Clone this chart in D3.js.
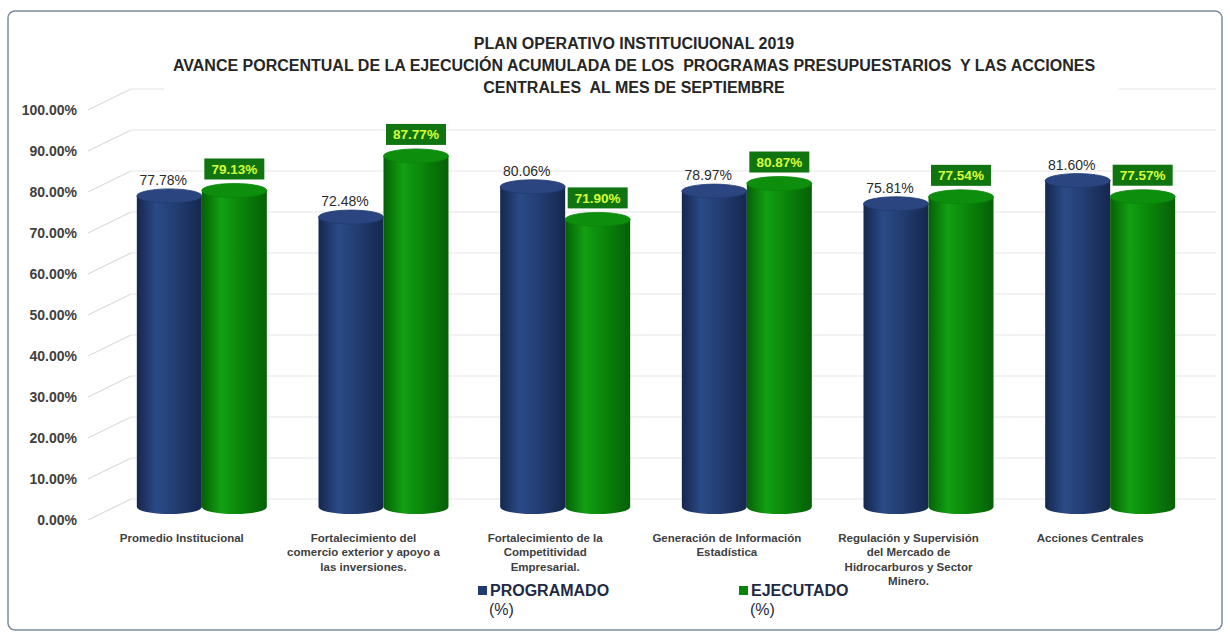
<html>

<head>
    <meta charset="UTF-8">
    <title>Plan Operativo Institucional 2019</title>
    <script src="https://cdn.jsdelivr.net/npm/d3@7/dist/d3.min.js" charset="utf-8"></script>
    <style>
        body { margin: 0; background: #ffffff; }
        text { font-family: "Liberation Sans", Arial, sans-serif; }
    </style>
</head>

<body>
    <svg id="mySvg" width="1230" height="633"></svg>
    <script>
        // datos
        var categories = [
            "Promedio Institucional",
            "Fortalecimiento del\ncomercio exterior y apoyo a\nlas inversiones.",
            "Fortalecimiento de la\nCompetitividad\nEmpresarial.",
            "Generación de Información\nEstadística",
            "Regulación y Supervisión\ndel Mercado de\nHidrocarburos y Sector\nMinero.",
            "Acciones Centrales"
        ];
        var programado = [0.7778, 0.7248, 0.8006, 0.7897, 0.7581, 0.8160];
        var ejecutado = [0.7913, 0.8777, 0.7190, 0.8087, 0.7754, 0.7757];
        var seriesNames = ["PROGRAMADO\n(%)", "EJECUTADO\n(%)"];
        var yTicks = [0, 0.1, 0.2, 0.3, 0.4, 0.5, 0.6, 0.7, 0.8, 0.9, 1.0];
        var titleLines = [
            "PLAN OPERATIVO INSTITUCIUONAL 2019",
            "AVANCE PORCENTUAL DE LA EJECUCIÓN ACUMULADA DE LOS  PROGRAMAS PRESUPUESTARIOS  Y LAS ACCIONES",
            "CENTRALES  AL MES DE SEPTIEMBRE"
        ];

        var svg = d3.select("#mySvg");
        var defs = svg.append("defs");

        // marco
        svg.append("rect")
            .attr("x", 8).attr("y", 11)
            .attr("width", 1214).attr("height", 619)
            .attr("rx", 7)
            .attr("fill", "#ffffff")
            .attr("stroke", "#7d8ca0")
            .attr("stroke-width", 1.5);

        // escalas
        var depthX = 43, depthY = 21;
        var yFront = d3.scaleLinear().domain([0, 1]).range([520, 110]);
        var yBar = d3.scaleLinear().domain([0, 1]).range([507, 107]);
        var x = d3.scaleBand().domain(categories).range([111, 1201]);
        var xInner = d3.scaleBand().domain([0, 1]).range([0, 130]);

        // rejilla 3D
        var grid = svg.append("g");
        grid.selectAll(".diag")
            .data(yTicks)
            .enter().append("line")
            .attr("x1", 88).attr("y1", function (d) { return yFront(d); })
            .attr("x2", 88 + depthX).attr("y2", function (d) { return yFront(d) - depthY; })
            .attr("stroke", "#dcdcdc").attr("stroke-width", 1.3);
        grid.selectAll(".back")
            .data(yTicks)
            .enter().append("line")
            .attr("x1", 88 + depthX).attr("y1", function (d) { return yFront(d) - depthY; })
            .attr("x2", 1216).attr("y2", function (d) { return yFront(d) - depthY; })
            .attr("stroke", "#e6e6e6").attr("stroke-width", 1.2);

        // titulo (con fondo blanco que tapa la rejilla)
        svg.append("rect")
            .attr("x", 164).attr("y", 26)
            .attr("width", 954).attr("height", 72)
            .attr("fill", "#ffffff");
        svg.append("g").selectAll("text")
            .data(titleLines)
            .enter().append("text")
            .attr("x", 634)
            .attr("y", function (d, i) { return 49 + i * 22; })
            .attr("text-anchor", "middle")
            .style("white-space", "pre")
            .attr("font-size", 16)
            .attr("font-weight", "bold")
            .attr("fill", "#262626")
            .text(function (d) { return d; });

        // eje Y
        var yAxis = svg.append("g")
            .attr("transform", "translate(77,0)")
            .call(d3.axisLeft(yFront).tickValues(yTicks).tickFormat(d3.format(".2%")).tickSize(0).tickPadding(0));
        yAxis.select(".domain").remove();
        yAxis.selectAll("text")
            .attr("font-size", 14)
            .attr("font-weight", "bold")
            .attr("fill", "#404040")
            .style("font-family", "'Liberation Sans', Arial, sans-serif");

        // gradientes de cilindros
        function cylGrad(id, edge, mid, light) {
            var g = defs.append("linearGradient").attr("id", id)
                .attr("x1", "0%").attr("x2", "100%").attr("y1", "0%").attr("y2", "0%");
            g.append("stop").attr("offset", "0%").attr("stop-color", edge);
            g.append("stop").attr("offset", "30%").attr("stop-color", light);
            g.append("stop").attr("offset", "60%").attr("stop-color", mid);
            g.append("stop").attr("offset", "100%").attr("stop-color", edge);
        }
        cylGrad("gBlue", "#15274d", "#223d72", "#2b4a86");
        cylGrad("gGreen", "#056005", "#0a850a", "#12a012");
        var colors = ["#213a70", "#0a850a"];
        var capColors = ["#2a4580", "#0d8f0d"];
        var grads = ["url(#gBlue)", "url(#gGreen)"];

        var ry = 7;
        var bars = svg.append("g");
        categories.forEach(function (c, i) {
            [programado[i], ejecutado[i]].forEach(function (v, s) {
                var x0 = x(c) + x.bandwidth() / 2 - 65 + xInner(s);
                var w = xInner.bandwidth();
                var rx = w / 2;
                var yt = yBar(v), yb = yBar(0);
                bars.append("path")
                    .attr("d", "M" + x0 + "," + yt + " L" + x0 + "," + yb +
                        " A" + rx + "," + ry + " 0 0 0 " + (x0 + w) + "," + yb +
                        " L" + (x0 + w) + "," + yt + " Z")
                    .attr("fill", grads[s]);
                bars.append("ellipse")
                    .attr("cx", x0 + rx).attr("cy", yt)
                    .attr("rx", rx).attr("ry", ry)
                    .attr("fill", capColors[s])
                    .attr("stroke", colors[s]).attr("stroke-width", 0.8);
            });
        });

        // etiquetas de datos
        var fmt = d3.format(".2%");
        var labels = svg.append("g");
        categories.forEach(function (c, i) {
            var cx = x(c) + x.bandwidth() / 2;
            var bx = cx - 65 + xInner(0) + 32.5 - 6;
            labels.append("text")
                .attr("x", bx)
                .attr("y", yBar(programado[i]) - ry - 4)
                .attr("text-anchor", "middle")
                .attr("font-size", 14)
                .attr("fill", "#2b2b2b")
                .text(fmt(programado[i]));
            var gx = cx - 65 + xInner(1) + 32.5;
            var top = yBar(ejecutado[i]) - ry - 4;
            labels.append("rect")
                .attr("x", gx - 30).attr("y", top - 21)
                .attr("width", 60).attr("height", 21)
                .attr("fill", "#107510");
            labels.append("text")
                .attr("x", gx)
                .attr("y", top - 5.5)
                .attr("text-anchor", "middle")
                .attr("font-size", 13.5)
                .attr("font-weight", "bold")
                .attr("fill", "#d4ff3a")
                .text(fmt(ejecutado[i]));
        });

        // categorias
        var cats = svg.append("g");
        categories.forEach(function (c) {
            var lx = x(c) + x.bandwidth() / 2 - 20;
            var t = cats.append("text")
                .attr("x", lx)
                .attr("y", 542)
                .attr("text-anchor", "middle")
                .attr("font-size", 11.5)
                .attr("font-weight", "bold")
                .attr("fill", "#404040");
            c.split("\n").forEach(function (line, k) {
                t.append("tspan")
                    .attr("x", lx)
                    .attr("dy", k === 0 ? 0 : 14.3)
                    .text(line);
            });
        });

        // leyenda
        var legendX = [478, 739];
        var legend = svg.append("g");
        seriesNames.forEach(function (name, s) {
            legend.append("rect")
                .attr("x", legendX[s]).attr("y", 586)
                .attr("width", 9).attr("height", 9)
                .attr("fill", colors[s]);
            var t = legend.append("text")
                .attr("y", 596)
                .attr("font-size", 16)
                .attr("fill", "#1f2a44");
            name.split("\n").forEach(function (line, k) {
                t.append("tspan")
                    .attr("x", k === 0 ? legendX[s] + 12 : legendX[s] + 11)
                    .attr("dy", k === 0 ? 0 : 19)
                    .attr("font-weight", k === 0 ? "bold" : "normal")
                    .text(line);
            });
        });
    </script>
</body>

</html>
